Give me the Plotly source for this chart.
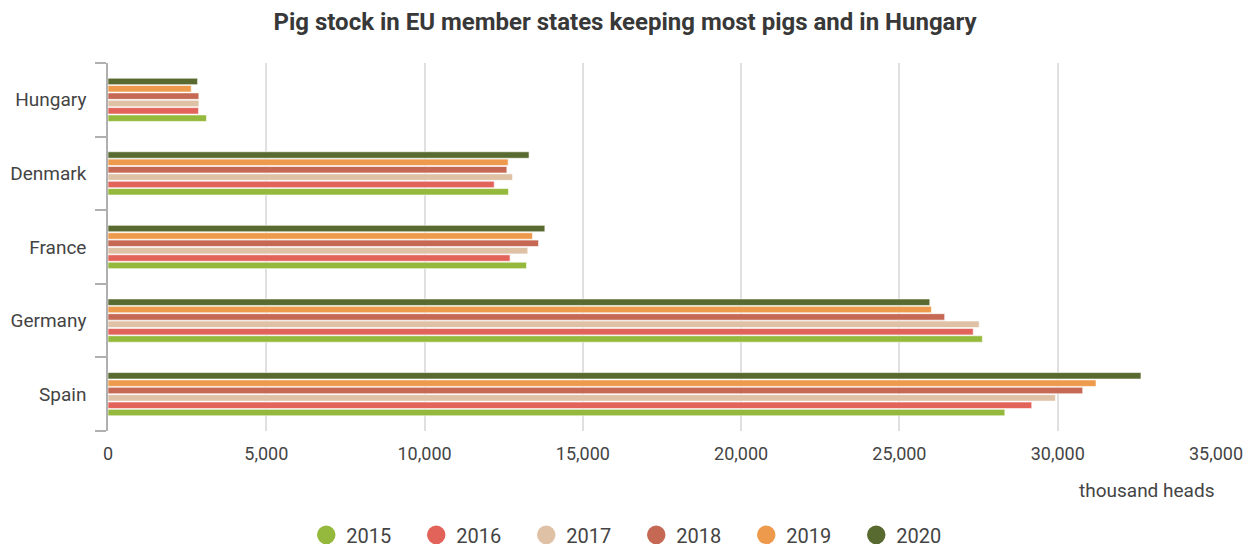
import plotly.graph_objects as go

# Countries, listed bottom-to-top as they appear on the y axis
countries = ["Spain", "Germany", "France", "Denmark", "Hungary"]
years = ["2015", "2016", "2017", "2018", "2019", "2020"]

# Pig stock, thousand heads, per year (values in the order of `countries`)
stock_2015 = [28330, 27620, 13220, 12650, 3110]
stock_2016 = [29180, 27330, 12700, 12200, 2860]
stock_2017 = [29930, 27520, 13260, 12780, 2870]
stock_2018 = [30790, 26430, 13600, 12600, 2870]
stock_2019 = [31210, 26010, 13410, 12640, 2630]
stock_2020 = [32630, 25960, 13800, 13300, 2830]

series = [stock_2015, stock_2016, stock_2017, stock_2018, stock_2019, stock_2020]
colors = ["#95b93c", "#e2635a", "#dfc1a6", "#c56954", "#ee9a4c", "#586a30"]

x_ticks = [0, 5000, 10000, 15000, 20000, 25000, 30000, 35000]

fig = go.Figure()

for year, values, color in zip(years, series, colors):
    fig.add_trace(go.Bar(
        x=values, y=countries, orientation="h", name=year,
        marker=dict(color=color, line=dict(color="rgba(255,255,255,0.6)", width=1)),
        showlegend=False,
        hovertemplate="%{y}: %{x:,}<extra>" + year + "</extra>",
    ))
    # circular legend entry for the series
    fig.add_trace(go.Scatter(
        x=[None], y=[None], mode="markers", name=year,
        marker=dict(color=color, size=20, symbol="circle",
                    line=dict(color=color, width=2.5)),
        showlegend=True, hoverinfo="skip",
    ))

fig.update_layout(
    width=1250, height=548,
    margin=dict(l=108, r=34, t=63, b=117),
    paper_bgcolor="white", plot_bgcolor="white",
    font=dict(family="Roboto, 'Open Sans', sans-serif", color="#444444"),
    title=dict(
        text="<b>Pig stock in EU member states keeping most pigs and in Hungary</b>",
        x=0.5, xref="container", xanchor="center",
        y=0.96, yref="container", yanchor="middle",
        font=dict(size=24, color="#383838"),
    ),
    barmode="group", bargap=0.4, bargroupgap=0.12,
    legend=dict(
        orientation="h", xref="container", yref="container",
        x=0.245, xanchor="left", y=0.024, yanchor="middle",
        entrywidth=65, font=dict(size=20, color="#444444"),
        itemsizing="trace",
    ),
    xaxis=dict(
        range=[0, 35000], tickvals=x_ticks, tickformat=",",
        showgrid=True, gridcolor="#e0e0e0", gridwidth=1.5,
        zeroline=False, showline=False, ticks="", automargin=False,
        tickfont=dict(size=18, color="#444444"), ticklabelstandoff=10,
    ),
    yaxis=dict(
        categoryorder="array", categoryarray=countries,
        showline=True, linecolor="#b0b0b0", linewidth=1.5,
        ticks="outside", tickson="boundaries", ticklen=11,
        tickcolor="#b0b0b0", tickwidth=1.5, automargin=False,
        tickfont=dict(size=19, color="#444444"), ticklabelstandoff=16,
        showgrid=False, zeroline=False,
    ),
    annotations=[dict(
        text="thousand heads", xref="paper", yref="paper",
        x=1.0, xanchor="right", y=-0.125, yanchor="top",
        showarrow=False, font=dict(size=19, color="#444444"),
    )],
)

fig.write_html("out.html")
